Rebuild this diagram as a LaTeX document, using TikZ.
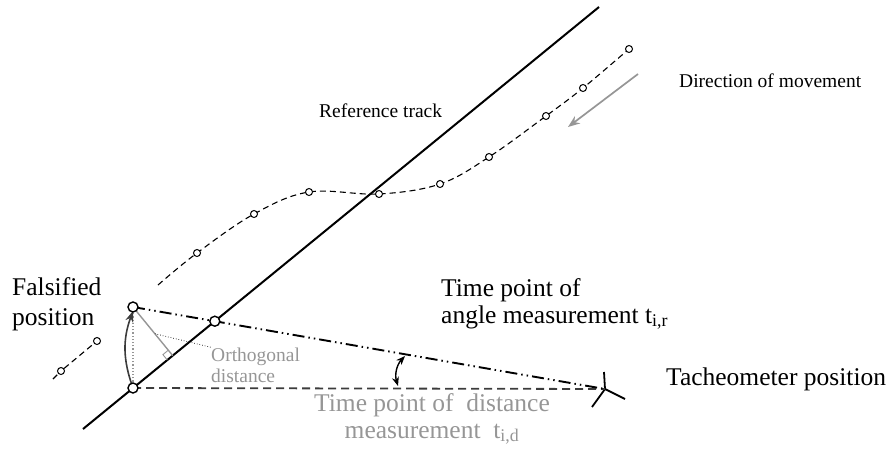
\documentclass[tikz,border=0pt]{standalone}
\usepackage{fontspec}
\setmainfont{Liberation Serif}
\usetikzlibrary{arrows.meta,calc}

\definecolor{lgray}{RGB}{150,150,150}
\definecolor{dgray}{RGB}{60,60,60}

\begin{document}
\begin{tikzpicture}[x=1pt,y=-1pt,
  trk/.style={line width=2pt},
  traj/.style={line width=1.1pt,dash pattern=on 6pt off 4pt},
  pt/.style={circle,draw,line width=1pt,fill=white,inner sep=0pt,minimum size=7pt},
  bpt/.style={circle,draw,line width=1.4pt,fill=white,inner sep=0pt,minimum size=10pt},
  big/.style={font=\fontsize{25.5}{27}\selectfont,inner sep=0pt},
  sml/.style={font=\fontsize{19.5}{21}\selectfont,inner sep=0pt},
  ddot/.style={line width=1.9pt,dash pattern=on 12pt off 4pt on 1.5pt off 4pt on 1.5pt off 4pt},
  hdash/.style={line width=1.8pt,dgray,dash pattern=on 8pt off 5pt},
  ar/.style={-{Stealth[length=9pt,width=7pt]}}]
\useasboundingbox (0,0) rectangle (896,452);
% ---- reference track
\coordinate (r0) at (83,429);
\coordinate (r1) at (599,7);
\draw[trk] (r0) -- (r1);
\node[sml,anchor=base west] (reftxt) at (319,117) {Reference track};
% ---- trajectory
\foreach \x/\y/\n in {158/285/0,197/253/1,254/214/2,309/192/3,379/194/4,440/184/5,489/157/6,546/116/7,583/88/8,629/49/9}{\coordinate (m\n) at (\x,\y);}
\draw[traj] plot[smooth,tension=0.6] coordinates {(m0) (m1) (m2) (m3) (m4) (m5) (m6) (m7) (m8) (m9)};
\foreach \n in {1,...,9}{\node[pt] (q\n) at (m\n) {};}
\coordinate (l0) at (53,379);
\node[pt] (l1) at (61,371) {};
\node[pt] (l2) at (97,341) {};
\draw[traj] (l0) -- (l1) -- (l2);
% ---- direction of movement
\coordinate (d0) at (638,74);
\coordinate (d1) at (568,127);
\draw[line width=1.7pt,lgray,-{Stealth[length=12pt,width=9pt]}] (d0) -- (d1);
\node[sml,anchor=base west] (dirtxt) at (679,87) {Direction of movement};
% ---- tacheometer
\coordinate (tach) at (605,389);
\draw[line width=1.8pt] (tach) -- ++(-1,-17) (tach) -- ++(-13,18) (tach) -- ++(20,10);
\node[big,anchor=base west] (tachtxt) at (666,385) {Tacheometer position};
% ---- positions
\coordinate (T0) at (133,388);
\coordinate (P) at (133,307);
\coordinate (F) at ($(r0)!(P)!(r1)$);
\draw[hdash] (T0) -- (tach);
\draw[ddot] (P) -- (tach);
\draw[lgray,line width=1.4pt] (P) -- (F);
\draw[lgray,line width=0.9pt] ($(F)!7pt!(P)$) -- ($(F)!7pt!(P)!7pt!-90:(F)$) -- ($(F)!7pt!(r0)$);
\draw[lgray,line width=1.2pt,dotted] (T0) -- (P);
\draw[dgray,line width=1.6pt,-{Stealth[length=11pt,width=8pt]}] (T0) to[bend left=20] ($(P)+(0,4)$);
\node[bpt] (ptT0) at (T0) {};
\node[bpt] (ptP) at (P) {};
\node[bpt] (ptX) at (intersection of P--tach and r0--r1) {};
% ---- angle
\coordinate (a0) at (398,386);
\coordinate (a1) at (405,356);
\draw[{Stealth[length=9pt,width=7pt]}-{Stealth[length=9pt,width=7pt]},line width=1.4pt] (a0) to[bend left=30] (a1);
% ---- labels
\node[big,align=left,anchor=base west] (falstxt) at (12,325) {Falsified\\[3pt]position};
\node[big,align=left,anchor=base west] (angtxt) at (441,323) {Time point of\\angle measurement t\textsubscript{i,r}};
\node[sml,lgray,align=left,anchor=base west] (orthtxt) at (211,382) {Orthogonal\\distance};
\draw[line width=0.7pt,dotted] ($(P)!0.55!(F)$) -- (orthtxt.north west);
\node[big,lgray,align=center,anchor=base] (disttxt) at (432,438) {Time point of~ distance\\measurement~ t\textsubscript{i,d}};
\end{tikzpicture}
\end{document}
